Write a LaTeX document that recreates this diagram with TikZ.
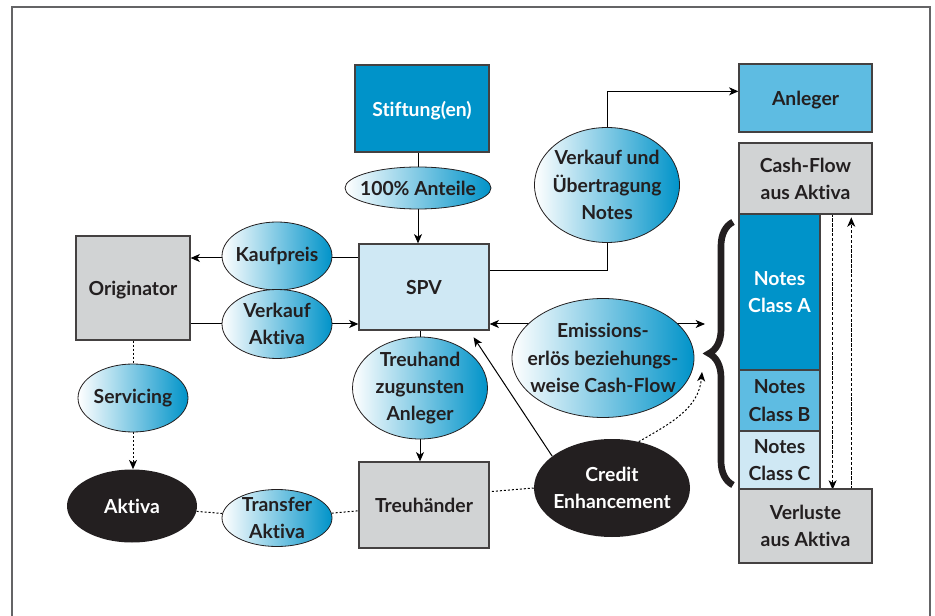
\documentclass[tikz,border=0pt]{standalone}
\usepackage{fontspec}
\setmainfont{Lato}[Ligatures=CommonOff]
\usetikzlibrary{shapes.geometric, arrows.meta, decorations.pathreplacing, backgrounds}

\definecolor{sfblue}{RGB}{0,147,201}
\definecolor{sfmid}{RGB}{94,188,226}
\definecolor{sflight}{RGB}{207,232,244}
\definecolor{sfgray}{RGB}{209,211,212}
\definecolor{sfink}{RGB}{35,31,32}
\definecolor{sfframe}{RGB}{100,100,102}

\begin{document}
\begin{tikzpicture}[
    x=0.75pt, y=-0.75pt,
    every node/.style={font=\bfseries\fontsize{14.5}{20.5}\selectfont, text=sfink, align=center},
    box/.style={rectangle, draw=sfink!85, line width=0.9pt, inner sep=0pt, text depth=0pt},
    bubble/.style={ellipse, draw=sfink, line width=0.6pt, inner xsep=-80pt, inner ysep=-40pt,
                   left color=white, right color=sfblue},
    blob/.style={ellipse, fill=sfink, text=white, inner xsep=-80pt, inner ysep=-40pt},
    arrow/.style={-{Stealth[length=7pt, width=6pt, inset=2pt]}, line width=0.75pt},
    twoway/.style={{Stealth[length=7pt, width=6pt, inset=2pt]}-{Stealth[length=7pt, width=6pt, inset=2pt]}, line width=0.75pt},
    dotline/.style={line width=0.75pt, dash pattern=on 1.5pt off 1.5pt},
    dashline/.style={line width=0.75pt, dash pattern=on 2.5pt off 1.2pt}
]
\useasboundingbox (0,0) rectangle (935,616);
\draw[sfframe, line width=1.1pt] (12,616) -- (12,7) -- (930,7) -- (930,616);

% left side
\node[box, fill=sfgray, minimum width=85.5pt, minimum height=78pt] (orig) at (133,288) {Originator};
\node[bubble, minimum width=82.5pt, minimum height=51pt] (kauf) at (277,256) {Kaufpreis};
\node[bubble, minimum width=82.5pt, minimum height=51.75pt] (verk) at (277,324) {Verkauf\\Aktiva};
\node[bubble, minimum width=82.5pt, minimum height=51pt] (serv) at (133,398) {Servicing};
\node[blob, minimum width=97.5pt, minimum height=54.75pt] (aktiva) at (132,506) {Aktiva};
\node[bubble, minimum width=82.5pt, minimum height=42.75pt] (transfer) at (277,518) {Transfer\\Aktiva};

% middle column
\node[box, fill=sfblue, text=white, minimum width=100.5pt, minimum height=65.25pt] (stift) at (422,108.5) {Stiftung(en)};
\node[bubble, minimum width=109.5pt, minimum height=31.5pt] (anteile) at (418,188) {100\% Anteile};
\node[box, fill=sflight, minimum width=97.5pt, minimum height=64.5pt] (spv) at (424,287) {SPV};
\node[bubble, minimum width=101.25pt, minimum height=76.5pt] (treuhand) at (420,388) {Treuhand\\zugunsten\\Anleger};
\node[box, fill=sfgray, minimum width=97.5pt, minimum height=64.5pt] (treuh) at (424,505) {Treuhänder};
\node[bubble, minimum width=108.75pt, minimum height=86.25pt] (vuen) at (607,185) {Verkauf und\\Übertragung\\Notes};
\node[bubble, minimum width=136.5pt, minimum height=89.25pt] (emis) at (603,358) {Emissions-\\erlös beziehungs-\\weise Cash-Flow};
\node[blob, minimum width=117pt, minimum height=73.5pt] (credit) at (612,488) {Credit\\Enhancement};

% right column
\node[box, fill=sfmid, minimum width=99.75pt, minimum height=51pt] (anleger) at (805.5,98) {Anleger};
\node[box, fill=sfgray, minimum width=99.75pt, minimum height=53.25pt] (cashflow) at (805.5,178.5) {Cash-Flow\\aus Aktiva};
\node[box, fill=sfblue, text=white, minimum width=60.75pt, minimum height=117pt] (classA) at (779.5,292) {Notes\\Class A};
\node[box, fill=sfmid, minimum width=60.75pt, minimum height=45.75pt] (classB) at (779.5,400.5) {Notes\\Class B};
\node[box, fill=sflight, minimum width=60.75pt, minimum height=43.5pt] (classC) at (779.5,460) {Notes\\Class C};
\node[box, fill=sfgray, minimum width=99.75pt, minimum height=55.5pt] (verluste) at (805.5,526) {Verluste\\aus Aktiva};

\coordinate (bracetip) at (705,324);
\coordinate (cetip) at (702,372);
\draw[sfink, line width=5pt, decorate, decoration={brace, amplitude=18pt}] (733,485) -- (733,222);

\begin{scope}[on background layer]
\draw[line width=0.75pt] (anteile |- stift.south) -- (anteile);
\draw[arrow] (anteile) -- (anteile |- spv.north);
\draw[arrow] (spv.west |- 0,258) -- (orig.east |- 0,258);
\draw[arrow] (orig.east |- verk) -- (spv.west |- verk);
\draw[dotline] (orig) -- (serv);
\draw[dotline, arrow] (serv) -- (serv |- aktiva.north);
\draw[dotline] (aktiva) -- (transfer) -- (treuh);
\draw[line width=0.75pt] (treuhand |- spv.south) -- (treuhand);
\draw[arrow] (treuhand) -- (treuhand |- treuh.north);
\draw[line width=0.75pt] ([yshift=12pt]spv.east) -| (vuen);
\draw[arrow] (vuen) |- ([yshift=5pt]anleger.west);
\draw[twoway] (spv.east |- bracetip) -- (bracetip);
\draw[arrow] (credit.152) -- ([xshift=-12pt, yshift=-5pt]spv.south east);
\draw[dotline] (credit.west) -- ([yshift=10pt]treuh.east);
\draw[dotline, arrow] (credit.60) to[out=30, in=-95] (cetip);
\draw[dashline, arrow] ([xshift=9pt]classA.north east) -- ([xshift=9pt]classC.south east);
\draw[dashline, arrow] ([xshift=23pt]classC.south east) -- ([xshift=23pt, yshift=-3pt]classA.north east);
\end{scope}
\end{tikzpicture}
\end{document}
